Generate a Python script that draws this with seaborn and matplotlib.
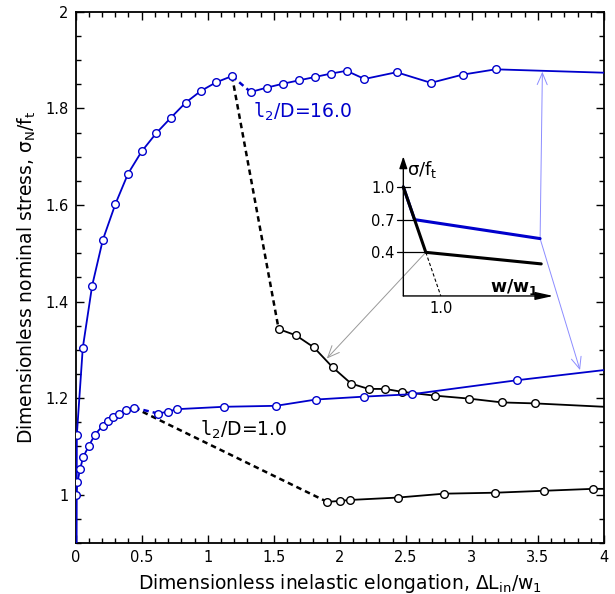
import matplotlib
matplotlib.use('Agg')
import matplotlib.pyplot as plt
import seaborn as sns
from matplotlib.ticker import MultipleLocator, FuncFormatter

# l2/D = 16.0 : hardening branch up to the peak (starts at the origin)
long_pre_x = [0.0, 0.009, 0.054, 0.125, 0.206, 0.301, 0.397, 0.500, 0.611, 0.722, 0.833, 0.947, 1.063, 1.184]
long_pre_y = [0.0, 1.124, 1.304, 1.433, 1.528, 1.602, 1.665, 1.711, 1.749, 1.781, 1.812, 1.836, 1.854, 1.867]
# l2/D = 16.0 : stable post-peak branch (blue), last value is the line end
long_blue_x = [1.325, 1.446, 1.567, 1.688, 1.810, 1.930, 2.051, 2.187, 2.430, 2.690, 2.930, 3.180, 4.0]
long_blue_y = [1.834, 1.843, 1.851, 1.858, 1.865, 1.872, 1.878, 1.861, 1.875, 1.853, 1.870, 1.881, 1.874]
# l2/D = 16.0 : softening branch (black)
long_black_x = [1.537, 1.668, 1.804, 1.945, 2.086, 2.218, 2.344, 2.470, 2.722, 2.977, 3.229, 3.478, 4.0]
long_black_y = [1.343, 1.330, 1.305, 1.264, 1.230, 1.219, 1.219, 1.213, 1.205, 1.199, 1.191, 1.189, 1.182]

# l2/D = 1.0 : hardening branch up to the peak
short_pre_x = [0.0, 0.004, 0.014, 0.034, 0.059, 0.100, 0.145, 0.206, 0.244, 0.281, 0.331, 0.382, 0.443]
short_pre_y = [0.0, 1.000, 1.026, 1.054, 1.079, 1.101, 1.124, 1.143, 1.153, 1.161, 1.167, 1.175, 1.180]
short_blue_x = [0.624, 0.700, 0.765, 1.123, 1.517, 1.819, 2.182, 2.545, 3.342, 4.0]
short_blue_y = [1.168, 1.172, 1.177, 1.182, 1.184, 1.197, 1.203, 1.208, 1.237, 1.258]
short_black_x = [1.905, 2.000, 2.080, 2.442, 2.790, 3.178, 3.546, 3.917, 4.0]
short_black_y = [0.985, 0.987, 0.989, 0.994, 1.002, 1.004, 1.008, 1.012, 1.012]

# inset: softening laws sigma/ft vs w/w1
law_blue_w = [0.0, 0.30, 3.65]
law_blue_s = [1.0, 0.70, 0.526]
law_black_w = [0.0, 0.60, 3.68]
law_black_s = [1.0, 0.40, 0.294]
law_ticks = [1.0, 0.7, 0.4]

BLUE = '#0000cc'

sns.set_theme(style='ticks')
plt.rcParams['font.family'] = ['DejaVu Sans']
plt.rcParams['mathtext.default'] = 'regular'
plt.rcParams['text.color'] = 'black'
plt.rcParams['axes.labelcolor'] = 'black'

fig = plt.figure(figsize=(6.15, 5.94), dpi=100)
ax = fig.add_axes([0.123, 0.086, 0.859, 0.894])


def curve(x, y, color, every):
    sns.lineplot(x=x, y=y, color=color, lw=1.3, marker='o', markersize=5.5,
                 markerfacecolor='white', markeredgecolor=color, markeredgewidth=1.0,
                 markevery=every, sort=False, estimator=None, ax=ax, zorder=3)


def dashed(x0, y0, x1, y1, color):
    sns.lineplot(x=[x0, x1], y=[y0, y1], color=color, lw=1.8, dashes=False,
                 linestyle=(0, (2.2, 1.6)), sort=False, estimator=None, ax=ax, zorder=2)


# dashed transitions from the peaks
dashed(long_pre_x[-1], long_pre_y[-1], long_black_x[0], long_black_y[0], 'black')
dashed(long_pre_x[-1], long_pre_y[-1], long_blue_x[0], long_blue_y[0], BLUE)
dashed(short_pre_x[-1], short_pre_y[-1], short_black_x[0], short_black_y[0], 'black')
dashed(short_pre_x[-1], short_pre_y[-1], short_blue_x[0], short_blue_y[0], BLUE)

curve(long_pre_x, long_pre_y, BLUE, slice(1, None))
curve(long_blue_x, long_blue_y, BLUE, slice(0, -1))
curve(long_black_x, long_black_y, 'black', slice(0, -1))
curve(short_pre_x, short_pre_y, BLUE, slice(1, None))
curve(short_blue_x, short_blue_y, BLUE, slice(0, -1))
curve(short_black_x, short_black_y, 'black', slice(0, -1))

ax.set_xlim(0, 4)
ax.set_ylim(0.9, 2)
ax.xaxis.set_major_locator(MultipleLocator(0.5))
ax.xaxis.set_minor_locator(MultipleLocator(0.1))
ax.yaxis.set_major_locator(MultipleLocator(0.2))
ax.yaxis.set_minor_locator(MultipleLocator(0.05))
fmt = FuncFormatter(lambda v, p: '%g' % round(v, 3))
ax.xaxis.set_major_formatter(fmt)
ax.yaxis.set_major_formatter(fmt)
ax.tick_params(which='both', direction='in', top=True, right=True, width=1, colors='black',
               labelsize=10.5, pad=5)
ax.tick_params(which='major', length=6)
ax.tick_params(which='minor', length=3.5)
for s in ax.spines.values():
    s.set_linewidth(1.3)
    s.set_color('black')

ax.set_xlabel('Dimensionless inelastic elongation, ΔL$_{in}$/w$_1$', fontsize=13.5, labelpad=5)
ax.set_ylabel('Dimensionless nominal stress, σ$_N$/f$_t$', fontsize=13.5, labelpad=5)

ax.text(1.346, 1.780, r'$\mathtt{l}_2$/D=16.0', color=BLUE, fontsize=13.5, va='baseline')
ax.text(0.942, 1.123, r'$\mathtt{l}_2$/D=1.0', color='black', fontsize=13.5, va='baseline')

# inset with the cohesive softening laws
ins = ax.inset_axes([0.599, 0.424, 0.305, 0.308])
ins.set_xlim(-0.3, 4.0)
ins.set_ylim(-0.2, 1.3)
ins.axis('off')
sns.lineplot(x=law_blue_w, y=law_blue_s, color=BLUE, lw=2.2, sort=False, estimator=None, ax=ins)
sns.lineplot(x=law_black_w, y=law_black_s, color='black', lw=2.2, sort=False, estimator=None, ax=ins)
sns.lineplot(x=[law_black_w[1], 1.0], y=[law_black_s[1], 0.0], color='black', lw=0.8,
             linestyle=(0, (3, 2)), sort=False, estimator=None, ax=ins)
for t, wend in zip(law_ticks, [0.18, law_blue_w[1], law_black_w[1]]):
    ins.plot([-0.18, wend], [t, t], color='black', lw=0.9)
    ins.text(-0.24, t, '%.1f' % t, ha='right', va='center_baseline', fontsize=10.5)
ins.annotate('', xy=(0, 1.28), xytext=(0, 0),
             arrowprops=dict(arrowstyle='-|>,head_length=0.6,head_width=0.2', color='black',
                             lw=1.0, shrinkA=0, shrinkB=0))
ins.annotate('', xy=(4.0, 0), xytext=(0, 0),
             arrowprops=dict(arrowstyle='-|>,head_length=0.9,head_width=0.2', color='black',
                             lw=1.0, shrinkA=0, shrinkB=0))
ins.text(0.09, 1.11, 'σ/f$_t$', fontsize=13, va='baseline')
ins.text(2.31, 0.04, 'w/w$_1$', fontsize=12.5, va='baseline', fontweight='bold')
ins.text(1.0, -0.05, '1.0', fontsize=10.5, ha='center', va='top')

# pointers from the softening laws to the curves
ax.annotate('', xy=(1.902, 1.282), xycoords='data',
            xytext=(law_black_w[1], law_black_s[1]), textcoords=ins.transData,
            arrowprops=dict(arrowstyle='->,head_length=0.7,head_width=0.3', color='#999999',
                            lw=0.7, shrinkA=0, shrinkB=0))
for tip in [(3.534, 1.876), (3.819, 1.258)]:
    ax.annotate('', xy=tip, xycoords='data',
                xytext=(law_blue_w[-1], law_blue_s[-1]), textcoords=ins.transData,
                arrowprops=dict(arrowstyle='->,head_length=0.7,head_width=0.3', color='#8c8cff',
                                lw=0.7, shrinkA=0, shrinkB=0))

fig.savefig('out.png', dpi=100)
